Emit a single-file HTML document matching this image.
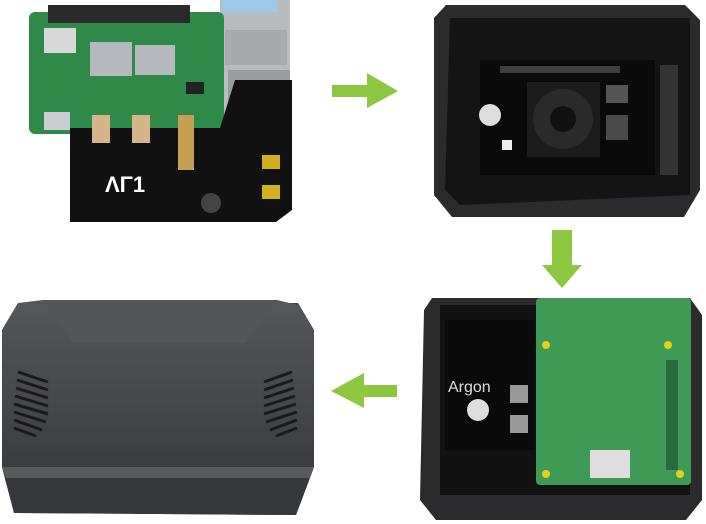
<!DOCTYPE html>
<html><head><meta charset="utf-8"><style>
html,body{margin:0;padding:0;background:#fff;width:706px;height:524px;overflow:hidden}
svg{display:block}
text{font-family:"Liberation Sans",sans-serif}
</style></head><body>
<svg width="706" height="524" viewBox="0 0 706 524" xmlns="http://www.w3.org/2000/svg">
<defs>
<linearGradient id="lid" x1="0" y1="0" x2="0" y2="1"><stop offset="0" stop-color="#56575b"/><stop offset="1" stop-color="#3c3d41"/></linearGradient>
</defs>
<!-- TOP LEFT: Pi + board -->
<rect x="220" y="0" width="70" height="128" fill="#b9bcbf"/>
<rect x="222" y="0" width="56" height="12" fill="#9fc7e8"/>
<rect x="225" y="30" width="62" height="35" fill="#a8abae"/>
<rect x="228" y="70" width="62" height="45" fill="#999ca0"/>
<rect x="29" y="12" width="195" height="122" rx="6" fill="#2f8a4a"/>
<rect x="48" y="5" width="142" height="18" fill="#2a2a2a"/>
<rect x="44" y="28" width="32" height="25" fill="#d8d8d8"/>
<rect x="90" y="42" width="42" height="34" fill="#b5b8bc"/>
<rect x="135" y="45" width="40" height="30" fill="#b5b8bc"/>
<rect x="186" y="82" width="18" height="12" fill="#222"/>
<rect x="44" y="112" width="26" height="18" fill="#c9ccd0"/>
<polygon points="70,128 220,128 235,80 292,80 292,210 276,222 70,222" fill="#111"/>
<rect x="92" y="115" width="18" height="28" fill="#d7b38a"/>
<rect x="132" y="115" width="18" height="28" fill="#d7b38a"/>
<rect x="178" y="115" width="16" height="55" fill="#c4a050"/>
<rect x="262" y="155" width="18" height="14" fill="#d4b020"/>
<rect x="262" y="185" width="18" height="14" fill="#d4b020"/>
<circle cx="211" cy="203" r="10" fill="#444"/>
<text x="105" y="192" font-size="22" fill="#fff" font-weight="bold">ΛΓ1</text>
<!-- TOP RIGHT: open case -->
<polygon points="446,5 685,5 700,20 700,190 684,217 452,217 434,195 434,18" fill="#2b2b2d"/>
<polygon points="450,18 690,18 690,195 460,205 445,190" fill="#141414"/>
<rect x="480" y="60" width="175" height="115" fill="#0a0a0a"/>
<rect x="500" y="66" width="120" height="7" fill="#555" opacity=".7"/>
<rect x="527" y="82" width="73" height="75" fill="#1c1c1c"/>
<circle cx="563" cy="119" r="30" fill="#2a2a2a"/>
<circle cx="563" cy="119" r="13" fill="#111"/>
<rect x="606" y="85" width="22" height="18" fill="#555"/>
<rect x="606" y="115" width="22" height="25" fill="#4a4a4a"/>
<circle cx="490" cy="115" r="11" fill="#ddd"/>
<rect x="502" y="140" width="10" height="10" fill="#eee"/>
<rect x="660" y="65" width="18" height="110" fill="#333"/>
<!-- arrows -->
<polygon points="332,85 367,85 367,73 398,91 367,108 367,97 332,97" fill="#8dc63f"/>
<polygon points="552,230 572,230 572,265 582,265 562,288 542,265 552,265" fill="#8dc63f"/>
<polygon points="397,385 364,385 364,373 331,391 364,408 364,397 397,397" fill="#8dc63f"/>
<!-- BOTTOM LEFT: closed case -->
<polygon points="18,303 298,303 314,330 314,467 296,515 14,513 2,467 2,330" fill="#414246"/>
<polygon points="43,300 277,300 298,305 314,330 314,467 2,467 2,330 18,303" fill="url(#lid)"/>
<polygon points="43,300 277,300 245,343 73,343" fill="#545559"/>
<polygon points="2,467 314,467 296,515 14,513" fill="#37383b"/>
<polygon points="2,467 314,467 310,478 6,478" fill="#5a5b5f"/>
<g stroke="#1a1a1c" stroke-width="3">
<line x1="18" y1="372" x2="48" y2="382"/><line x1="17" y1="380" x2="48" y2="390"/><line x1="16" y1="388" x2="48" y2="398"/><line x1="15" y1="396" x2="48" y2="406"/><line x1="14" y1="404" x2="48" y2="414"/><line x1="14" y1="412" x2="46" y2="422"/><line x1="14" y1="420" x2="42" y2="430"/><line x1="14" y1="428" x2="36" y2="436"/>
<line x1="292" y1="372" x2="264" y2="382"/><line x1="293" y1="380" x2="264" y2="390"/><line x1="294" y1="388" x2="264" y2="398"/><line x1="295" y1="396" x2="264" y2="406"/><line x1="296" y1="404" x2="264" y2="414"/><line x1="297" y1="412" x2="266" y2="422"/><line x1="297" y1="420" x2="270" y2="430"/><line x1="297" y1="428" x2="276" y2="436"/>
</g>
<!-- BOTTOM RIGHT: case with Pi -->
<polygon points="432,298 690,298 702,315 702,500 686,520 436,520 420,500 424,310" fill="#2b2b2d"/>
<polygon points="440,305 690,305 690,495 440,495" fill="#121212"/>
<rect x="445" y="320" width="90" height="130" fill="#0a0a0a"/>
<text x="448" y="392" font-size="16" fill="#ddd">Argon</text>
<circle cx="478" cy="410" r="11" fill="#ddd"/>
<rect x="510" y="385" width="18" height="18" fill="#999"/>
<rect x="510" y="415" width="18" height="18" fill="#999"/>
<rect x="536" y="298" width="155" height="187" rx="4" fill="#3e9a54"/>
<rect x="590" y="450" width="40" height="28" fill="#ddd"/>
<circle cx="546" cy="345" r="4" fill="#e5d020"/><circle cx="668" cy="345" r="4" fill="#e5d020"/>
<circle cx="546" cy="474" r="4" fill="#e5d020"/><circle cx="680" cy="474" r="4" fill="#e5d020"/>
<rect x="666" y="360" width="12" height="110" fill="#2a6a3a"/>
</svg>
</body></html>
